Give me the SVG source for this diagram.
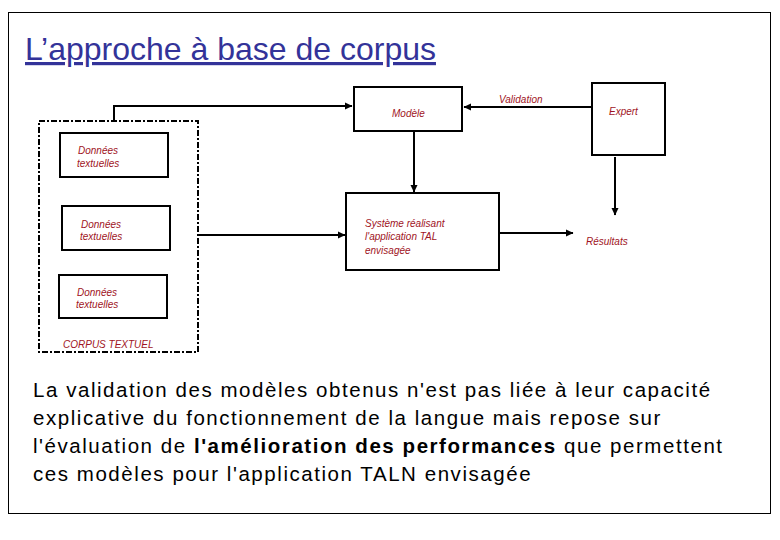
<svg xmlns="http://www.w3.org/2000/svg" width="780" height="540" viewBox="0 0 780 540">
<defs>
<style>
.box{fill:#fff;stroke:#000;stroke-width:2}
.lbl{font-family:"Liberation Sans",Arial,sans-serif;font-size:10px;font-style:italic;fill:#A01424}
.edge{fill:none;stroke:#000;stroke-width:2}
.body{font-family:"Liberation Sans",Arial,sans-serif;font-size:20.5px;fill:#000;letter-spacing:1.55px}
</style>
<marker id="ah" markerWidth="8" markerHeight="8" refX="7" refY="4" orient="auto" markerUnits="userSpaceOnUse">
<path d="M0,0.5 L7.5,4 L0,7.5 Z" fill="#000"/>
</marker>
</defs>
<rect x="0" y="0" width="780" height="540" fill="#fff"/>
<rect x="8.5" y="12.5" width="762" height="501" fill="none" stroke="#000" stroke-width="1"/>
<text x="25" y="60" font-family="Liberation Sans, Arial, sans-serif" font-size="32" fill="#333399" text-decoration="underline">L’approche à base de corpus</text>

<g id="connectors">
<path class="edge" d="M114,121 V106 H352" marker-end="url(#ah)"/>
<path class="edge" d="M592,107 H464" marker-end="url(#ah)"/>
<path class="edge" d="M414,131 V192" marker-end="url(#ah)"/>
<path class="edge" d="M199,235 H345" marker-end="url(#ah)"/>
<path class="edge" d="M499,233 H573" marker-end="url(#ah)"/>
<path class="edge" d="M615,157 V215" marker-end="url(#ah)"/>
<text class="lbl" x="499" y="103">Validation</text>
</g>

<g id="corpus">
<rect x="39" y="121" width="159" height="231" fill="none" stroke="#000" stroke-width="2" stroke-dasharray="6 2 2 2"/>
<text class="lbl" x="63" y="348">CORPUS TEXTUEL</text>
</g>
<g id="donnees1">
<rect class="box" x="60" y="133" width="108" height="44"/>
<text class="lbl" x="78" y="154">Données</text>
<text class="lbl" x="77" y="167">textuelles</text>
</g>
<g id="donnees2">
<rect class="box" x="62" y="206" width="108" height="44"/>
<text class="lbl" x="81" y="228">Données</text>
<text class="lbl" x="80" y="240">textuelles</text>
</g>
<g id="donnees3">
<rect class="box" x="59" y="275" width="108" height="43"/>
<text class="lbl" x="77" y="296">Données</text>
<text class="lbl" x="76" y="308">textuelles</text>
</g>
<g id="modele">
<rect class="box" x="354" y="87" width="108" height="44"/>
<text class="lbl" x="392" y="117">Modèle</text>
</g>
<g id="expert">
<rect class="box" x="592" y="83" width="73" height="72"/>
<text class="lbl" x="609" y="115">Expert</text>
</g>
<g id="systeme">
<rect class="box" x="346" y="193" width="153" height="77"/>
<text class="lbl" x="365" y="227">Système réalisant</text>
<text class="lbl" x="365" y="240">l'application TAL</text>
<text class="lbl" x="365" y="254">envisagée</text>
</g>
<g id="resultats">
<text class="lbl" x="586" y="245">Résultats</text>
</g>

<text class="body" x="33" y="397">La validation des modèles obtenus n'est pas liée à leur capacité</text>
<text class="body" x="33" y="425">explicative du fonctionnement de la langue mais repose sur</text>
<text class="body" x="33" y="453">l'évaluation de <tspan font-weight="bold">l'amélioration des performances</tspan> que permettent</text>
<text class="body" x="33" y="481">ces modèles pour l'application TALN envisagée</text>
</svg>
